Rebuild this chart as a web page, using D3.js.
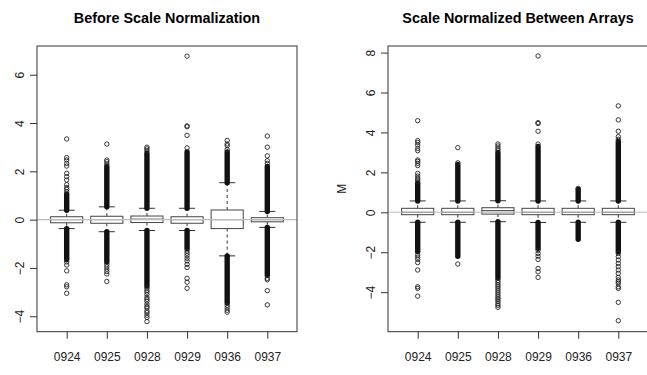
<!DOCTYPE html>
<html><head><meta charset="utf-8">
<script src="https://cdn.jsdelivr.net/npm/d3@7/dist/d3.min.js"></script>
<style>
body{margin:0;background:#fff}
svg{display:block;font-family:"Liberation Sans",Arial,Helvetica,sans-serif}
</style>
</head><body>
<svg id="chart" width="647" height="375"></svg>
<script>
// ---------------- data ----------------
const categories = ["0924","0925","0928","0929","0936","0937"];

// Panel 1: Before Scale Normalization
const beforeTitle = "Before Scale Normalization";
const beforeTicks = [-4,-2,0,2,4,6];
const beforeQ1 = [-0.13,-0.15,-0.12,-0.15,-0.37,-0.09];
const beforeMedian = [0,0,0.02,0,0,0];
const beforeQ3 = [0.12,0.14,0.15,0.12,0.40,0.08];
const beforeWhiskerLow = [-0.37,-0.50,-0.45,-0.45,-1.50,-0.32];
const beforeWhiskerHigh = [0.39,0.53,0.47,0.47,1.53,0.34];
// dense runs of outliers (visually solid), [from, to]
const beforeDenseHigh = [[0.39,1.05],[0.53,2.2],[0.47,2.75],[0.47,2.8],[1.53,2.8],[0.34,2.2]];
const beforeDenseLow = [[-1.65,-0.37],[-1.75,-0.50],[-2.75,-0.45],[-1.2,-0.45],[-3.45,-1.50],[-2.3,-0.32]];
// individually visible outliers
const beforeOutHigh = [
  [1.15,1.25,1.33,1.45,1.64,1.78,1.92,2.22,2.33,2.47,2.57,3.34],
  [2.3,2.4,2.47,3.13],
  [2.85,2.93,3.0],
  [2.97,3.49,3.85,3.88,6.77],
  [2.9,3.06,3.13,3.28],
  [2.33,2.44,2.64,3.0,3.46]
];
const beforeOutLow = [
  [-1.75,-1.88,-2.12,-2.70,-2.78,-3.05],
  [-1.85,-1.95,-2.05,-2.15,-2.25,-2.56],
  [-2.83,-2.92,-3.0,-3.1,-3.22,-3.3,-3.38,-3.5,-3.6,-3.66,-3.78,-3.85,-3.96,-4.05,-4.22],
  [-1.3,-1.39,-1.49,-1.6,-1.71,-1.85,-1.98,-2.43,-2.59,-2.84],
  [-3.55,-3.65,-3.75,-3.83],
  [-2.43,-2.49,-2.94,-3.53]
];

// Panel 2: Scale Normalized Between Arrays
const afterTitle = "Scale Normalized Between Arrays";
const afterYLabel = "M";
const afterTicks = [-4,-2,0,2,4,6,8];
const afterQ1 = [-0.12,-0.12,-0.09,-0.12,-0.12,-0.12];
const afterMedian = [0,0,0.08,0,0,0];
const afterQ3 = [0.20,0.20,0.23,0.20,0.20,0.20];
const afterWhiskerLow = [-0.50,-0.50,-0.47,-0.51,-0.50,-0.50];
const afterWhiskerHigh = [0.57,0.57,0.58,0.57,0.57,0.57];
const afterDenseHigh = [[0.57,1.45],[0.57,2.4],[0.58,3.0],[0.57,3.3],[0.57,1.15],[0.57,3.55]];
const afterDenseLow = [[-1.97,-0.50],[-2.2,-0.50],[-3.3,-0.47],[-1.8,-0.51],[-1.35,-0.50],[-1.97,-0.50]];
const afterOutHigh = [
  [1.53,1.62,1.70,1.82,1.95,2.34,2.45,2.55,2.62,3.09,3.2,3.37,3.5,3.59,4.59],
  [2.48,3.24],
  [3.12,3.21,3.32,3.42],
  [3.42,4.06,4.45,4.49,7.83],
  [1.2],
  [3.66,3.79,4.06,4.63,5.33]
];
const afterOutLow = [
  [-2.14,-2.25,-2.36,-2.52,-2.89,-3.73,-3.81,-4.2],
  [-2.59],
  [-3.42,-3.52,-3.62,-3.7,-3.8,-3.9,-4.0,-4.1,-4.2,-4.3,-4.38,-4.47,-4.58,-4.66,-4.76],
  [-1.9,-2.06,-2.2,-2.36,-2.81,-2.98,-3.26],
  [],
  [-2.06,-2.22,-2.39,-2.56,-2.72,-2.89,-3.06,-3.26,-3.39,-3.48,-3.56,-3.73,-3.81,-4.51,-5.43]
];

// ---------------- drawing ----------------
const svg = d3.select("#chart");
const TOP = 46, BOTTOM = 331.7;

function drawPanel(o){
  const x = d3.scaleLinear().domain([0.26,6.74]).range([o.left,o.right]);
  const y = d3.scaleLinear().domain(o.yDomain).range([BOTTOM,TOP]);
  const g = svg.append("g");

  g.append("text")
    .attr("x",(o.left+o.right)/2).attr("y",23)
    .attr("text-anchor","middle")
    .style("font-weight","bold").style("font-size","14.4px").attr("fill","#000")
    .text(o.title);

  categories.forEach((c,i)=>{
    const cx = x(i+1);
    const hw = x(i+1.4)-cx;
    const sw = x(i+1.2)-cx;
    // whiskers
    [[o.q3[i],o.hi[i]],[o.q1[i],o.lo[i]]].forEach(([a,b])=>{
      g.append("line").attr("x1",cx).attr("x2",cx).attr("y1",y(a)).attr("y2",y(b))
        .attr("stroke","#333").attr("stroke-width",1).attr("stroke-dasharray","3,3");
    });
    [o.hi[i],o.lo[i]].forEach(v=>{
      g.append("line").attr("x1",cx-sw).attr("x2",cx+sw).attr("y1",y(v)).attr("y2",y(v))
        .attr("stroke","#333").attr("stroke-width",1);
    });
    // box
    g.append("rect").attr("x",cx-hw).attr("width",2*hw)
      .attr("y",y(o.q3[i])).attr("height",y(o.q1[i])-y(o.q3[i]))
      .attr("fill","#fff").attr("stroke","#444").attr("stroke-width",1);
    g.append("line").attr("x1",cx-hw).attr("x2",cx+hw)
      .attr("y1",y(o.med[i])).attr("y2",y(o.med[i]))
      .attr("stroke","#333").attr("stroke-width",1);
    // dense outlier runs
    [o.denseHigh[i],o.denseLow[i]].forEach(([a,b])=>{
      g.append("line").attr("x1",cx).attr("x2",cx).attr("y1",y(a)).attr("y2",y(b))
        .attr("stroke","#111").attr("stroke-width",5.4).attr("stroke-linecap","round");
    });
    // individual outliers
    o.outHigh[i].concat(o.outLow[i]).forEach(v=>{
      g.append("circle").attr("cx",cx).attr("cy",y(v)).attr("r",2.2)
        .attr("fill","none").attr("stroke","#222").attr("stroke-width",0.9);
    });
  });

  // zero reference line
  g.append("line").attr("x1",o.left).attr("x2",o.right).attr("y1",y(0)).attr("y2",y(0))
    .attr("stroke","#bdbdbd").attr("stroke-width",1.1);

  // frame
  g.append("rect").attr("x",o.left).attr("y",TOP).attr("width",o.right-o.left).attr("height",BOTTOM-TOP)
    .attr("fill","none").attr("stroke","#333").attr("stroke-width",1);

  // y axis
  const ya = g.append("g").attr("transform",`translate(${o.left},0)`)
    .call(d3.axisLeft(y).tickValues(o.ticks).tickSize(7).tickFormat(d3.format("d")));
  ya.select(".domain").remove();
  ya.selectAll(".tick line").attr("stroke","#333");
  ya.selectAll(".tick text")
    .attr("x",null).attr("dy",null).attr("text-anchor","middle")
    .attr("transform","translate(-13.5,0) rotate(-90)")
    .style("font-size","12px").style("font-family","inherit").attr("fill","#222");

  // x axis
  const xa = g.append("g").attr("transform",`translate(0,${BOTTOM})`)
    .call(d3.axisBottom(x).tickValues([1,2,3,4,5,6]).tickSize(7).tickFormat(d=>categories[d-1]));
  xa.select(".domain").remove();
  xa.selectAll(".tick line").attr("stroke","#333");
  xa.selectAll(".tick text").attr("dy",null).attr("y",29.3)
    .style("font-size","12px").style("font-family","inherit").attr("fill","#222");

  if(o.yLabel){
    g.append("text").attr("transform",`translate(${o.left-42.5},${(TOP+BOTTOM)/2}) rotate(-90)`)
      .attr("text-anchor","middle").style("font-size","12px").attr("fill","#222").text(o.yLabel);
  }
}

drawPanel({left:37,right:297,yDomain:[-4.64,7.19],title:beforeTitle,ticks:beforeTicks,
  q1:beforeQ1,med:beforeMedian,q3:beforeQ3,lo:beforeWhiskerLow,hi:beforeWhiskerHigh,
  denseHigh:beforeDenseHigh,denseLow:beforeDenseLow,outHigh:beforeOutHigh,outLow:beforeOutLow});

drawPanel({left:388,right:648,yDomain:[-5.98,8.33],title:afterTitle,ticks:afterTicks,yLabel:afterYLabel,
  q1:afterQ1,med:afterMedian,q3:afterQ3,lo:afterWhiskerLow,hi:afterWhiskerHigh,
  denseHigh:afterDenseHigh,denseLow:afterDenseLow,outHigh:afterOutHigh,outLow:afterOutLow});
</script>
</body></html>
